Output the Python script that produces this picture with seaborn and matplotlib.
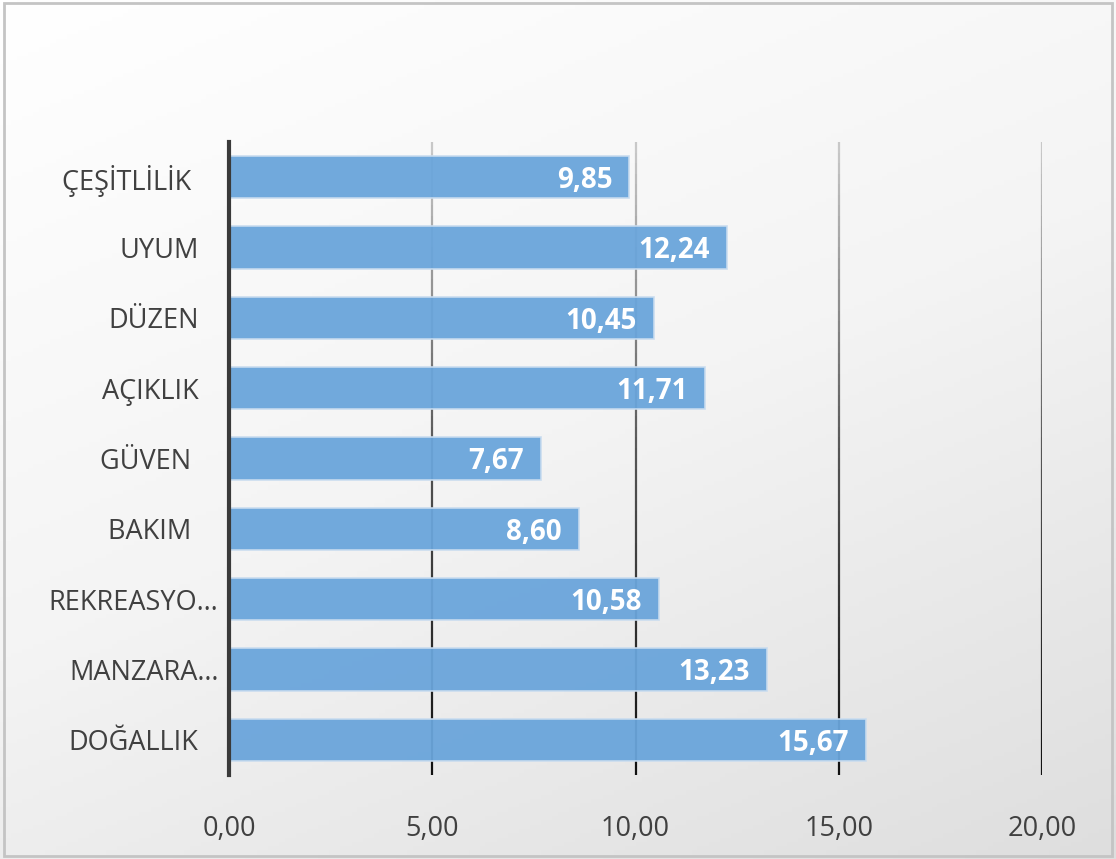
import numpy as np
import pandas as pd
import matplotlib
matplotlib.use('Agg')
import matplotlib.pyplot as plt
import matplotlib.transforms as mtransforms
import seaborn as sns
from matplotlib.collections import LineCollection
from matplotlib.colors import LinearSegmentedColormap

# ==========================
# Data
# ==========================
categories = ['ÇEŞİTLİLİK ', 'UYUM', 'DÜZEN', 'AÇIKLIK', 'GÜVEN ',
              'BAKIM ', 'REKREASYO…', 'MANZARA…', 'DOĞALLIK']
values = [9.85, 12.24, 10.45, 11.71, 7.67, 8.60, 10.58, 13.23, 15.67]
x_ticks = [0, 5, 10, 15, 20]

df = pd.DataFrame({'kategori': categories, 'deger': values})

sns.set_style('white')
plt.rcParams['font.family'] = ['Open Sans', 'DejaVu Sans']

text_color = '#404040'
bar_color = '#6aa5db'

fig = plt.figure(figsize=(11.16, 8.59), dpi=100)

# background gradient (white top-left -> light gray bottom-right)
bg = fig.add_axes([0, 0, 1, 1], zorder=-10)
gx, gy = np.meshgrid(np.linspace(0, 1, 200), np.linspace(0, 1, 200))
grad = 0.35 * gx + 0.65 * gy
bg_cmap = LinearSegmentedColormap.from_list('bg', ['#ffffff', '#f4f4f4', '#dedede'])
bg.imshow(grad, cmap=bg_cmap, aspect='auto', extent=[0, 1, 0, 1], origin='upper')
bg.set_xlim(0, 1)
bg.set_ylim(0, 1)
bg.axis('off')
bg.add_patch(plt.Rectangle((0.004, 0.004), 0.992, 0.992, fill=False,
                           edgecolor='#c4c4c4', linewidth=2))

ax = fig.add_axes([0.2052, 0.0978, 0.7285, 0.7369])
ax.patch.set_alpha(0)

# gradient grid lines (light at top, dark at bottom)
grid_cmap = LinearSegmentedColormap.from_list('grid', ['#111111', '#555555', '#cccccc'])
n_seg = 60
ys = np.linspace(0, 1, n_seg + 1)
for xt in x_ticks[1:]:
    segs = [[(xt, ys[i]), (xt, ys[i + 1])] for i in range(n_seg)]
    lc = LineCollection(segs, transform=ax.get_xaxis_transform(),
                        colors=grid_cmap(ys[:-1]), linewidths=1.6, zorder=0)
    ax.add_collection(lc)

sns.barplot(data=df, x='deger', y='kategori', orient='h', color=bar_color,
            width=0.6, edgecolor='#c9dcef', linewidth=1.2, alpha=0.95,
            saturation=1, ax=ax, zorder=2)

for i, v in enumerate(values):
    ax.text(v - 0.42, i, f'{v:.2f}'.replace('.', ','), ha='right',
            va='center_baseline', color='white', fontsize=20,
            fontweight='bold', zorder=3)

ax.set_xlim(0, 20)
ax.set_ylim(len(categories) - 0.5, -0.5)
ax.set_xticks(x_ticks)
ax.set_xticklabels([f'{t:.2f}'.replace('.', ',') for t in x_ticks])
ax.set_xlabel('')
ax.set_ylabel('')
ax.tick_params(axis='x', length=0, pad=29, labelsize=19.5, colors=text_color)
ax.tick_params(axis='y', length=0, pad=22, labelsize=19.5, colors=text_color)

# truncated labels sit closer to the axis
shift = mtransforms.ScaledTranslation(20 / 100, 0, fig.dpi_scale_trans)
for lab in ax.get_yticklabels():
    if lab.get_text().endswith('…'):
        lab.set_transform(lab.get_transform() + shift)

for side in ['top', 'right', 'bottom']:
    ax.spines[side].set_visible(False)
ax.spines['left'].set_color('#3a3a3a')
ax.spines['left'].set_linewidth(3)
ax.spines['left'].set_zorder(4)

fig.savefig('out.png', dpi=100)
